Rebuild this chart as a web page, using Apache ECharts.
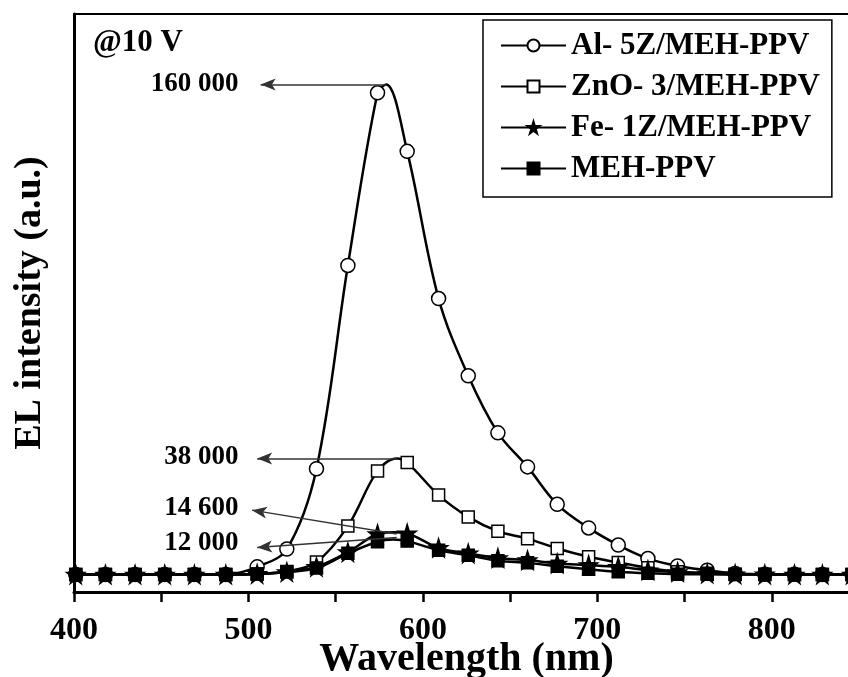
<!DOCTYPE html>
<html>
<head>
<meta charset="utf-8">
<script src="https://cdn.jsdelivr.net/npm/echarts@6/dist/echarts.min.js"></script>
<style>
  html, body { margin: 0; padding: 0; background: #fff; }
  #chart { width: 848px; height: 677px; }
</style>
</head>
<body>
<div id="chart"></div>
<script>
// wavelength (nm) of the plotted markers
const wavelength = [401, 418, 435, 452, 469, 487, 505, 522, 539, 557, 574, 591, 609, 626, 643, 660, 677, 695, 712, 729, 746, 763, 779, 796, 813, 829, 846]

// EL intensity (a.u.) at the markers
const al5z = [200, 200, 200, 200, 200, 200, 2700, 8500, 34700, 101000, 157300, 138200, 90200, 65000, 46400, 35300, 23100, 15400, 9800, 5400, 3000, 1600, 500, 300, 250, 200, 200]
const zno3 = [200, 200, 200, 200, 200, 200, 400, 1200, 4300, 16000, 34000, 36700, 26100, 19000, 14300, 11900, 8700, 6000, 4100, 2400, 1100, 650, 300, 250, 200, 200, 200]
const fe1z = [200, 200, 200, 200, 200, 200, 400, 1000, 2700, 7500, 13400, 13600, 8900, 7100, 5600, 4900, 3800, 3300, 2700, 1600, 1000, 500, 300, 250, 200, 200, 200]
const mehppv = [200, 200, 200, 200, 200, 200, 400, 1000, 2300, 7100, 10900, 11100, 8100, 6500, 4700, 4000, 2900, 1900, 1100, 600, 300, 250, 200, 200, 200, 200, 200]

// curve maxima (between markers, no symbol)
const peakX = [579, 585, 583, 583]
const peakY = [160000, 38000, 14000, 11600]

const seriesNames = ['Al- 5Z/MEH-PPV', 'ZnO- 3/MEH-PPV', 'Fe- 1Z/MEH-PPV', 'MEH-PPV']

// peak annotations
const noteText = ['160 000', '38 000', '14 600', '12 000']
const noteX = [497.5, 497.5, 497.5, 497.5]
const noteY = [160000, 38500, 21800, 10400]
const arrowFrom = [[579, 160000], [585, 38000], [585, 13400], [585, 12300]]
const arrowTo = [[507, 160000], [505, 38000], [502, 21200], [505, 9000]]

const font = "'Liberation Serif', 'Times New Roman', serif"
const star = 'path://M50,0 L61,35 L98,35 L68,57 L79,91 L50,70 L21,91 L32,57 L2,35 L39,35 Z'

const buildData = (values, i) => {
  const pts = wavelength.map((x, j) => [x, values[j]])
  pts.push({ value: [peakX[i], peakY[i]], symbol: 'none' })
  return pts.sort((a, b) => (a.value || a)[0] - (b.value || b)[0])
}

const markers = [
  { symbol: 'circle', size: 14, fill: '#fff' },
  { symbol: 'rect', size: 12, fill: '#fff' },
  { symbol: star, size: 18, fill: '#000' },
  { symbol: 'rect', size: 12, fill: '#000' }
]

const lineSeries = [al5z, zno3, fe1z, mehppv].map((values, i) => ({
  name: seriesNames[i],
  type: 'line',
  smooth: 0.35,
  data: buildData(values, i),
  symbol: markers[i].symbol,
  symbolSize: markers[i].size,
  lineStyle: { color: '#000', width: 2.5 },
  itemStyle: { color: markers[i].fill, borderColor: '#000', borderWidth: 1.5, opacity: 1 }
}))

const notesSeries = {
  name: 'notes',
  type: 'line',
  data: [],
  silent: true,
  markLine: {
    silent: true,
    symbol: ['none', 'arrow'],
    lineStyle: { color: '#333', width: 1.5, type: 'solid' },
    label: { show: false },
    data: arrowFrom.map((p, i) => [
      { coord: p, symbol: 'none' },
      { coord: arrowTo[i], symbol: 'arrow', symbolSize: [9, 15] }
    ])
  },
  markPoint: {
    silent: true,
    symbol: 'circle',
    symbolSize: 1,
    itemStyle: { color: 'rgba(0,0,0,0)' },
    label: {
      show: true,
      position: 'left',
      distance: 5,
      color: '#000',
      fontFamily: font,
      fontWeight: 'bold',
      fontSize: 27
    },
    data: noteText.map((t, i) => ({ coord: [noteX[i], noteY[i]], value: t, label: { formatter: t } }))
  }
}

const chart = echarts.init(document.getElementById('chart'))
chart.setOption({
  animation: false,
  backgroundColor: '#fff',
  title: {
    text: '@10 V',
    left: 93,
    top: 27,
    padding: 0,
    textStyle: { fontFamily: font, fontWeight: 'bold', fontSize: 31, color: '#000' }
  },
  legend: {
    data: seriesNames,
    orient: 'vertical',
    left: 483,
    top: 20,
    padding: [10, 12, 13, 17],
    itemGap: 10,
    itemWidth: 65,
    itemHeight: 15,
    backgroundColor: '#fff',
    borderColor: '#000',
    borderWidth: 1.5,
    borderRadius: 0,
    textStyle: { fontFamily: font, fontWeight: 'bold', fontSize: 31, color: '#000' }
  },
  grid: { left: 74, right: -11, top: 14, bottom: 85, containLabel: false, outerBoundsMode: 'none' },
  xAxis: [{
    type: 'value',
    min: 400,
    max: 850,
    interval: 50,
    name: 'Wavelength (nm)',
    nameLocation: 'middle',
    nameGap: 48,
    nameMoveOverlap: false,
    nameTextStyle: { fontFamily: font, fontWeight: 'bold', fontSize: 40, color: '#000' },
    axisLine: { onZero: false, lineStyle: { color: '#000', width: 3 } },
    axisTick: { length: 10, lineStyle: { color: '#000', width: 2.5 } },
    axisLabel: {
      margin: 23,
      formatter: v => (v % 100 === 0 ? String(v) : ''),
      fontFamily: font,
      fontWeight: 'bold',
      fontSize: 32,
      color: '#000'
    },
    splitLine: { show: false }
  }, {
    type: 'value',
    position: 'top',
    min: 400,
    max: 850,
    axisLine: { onZero: false, lineStyle: { color: '#000', width: 2 } },
    axisTick: { show: false },
    axisLabel: { show: false },
    splitLine: { show: false }
  }],
  yAxis: {
    type: 'value',
    min: -5500,
    max: 183000,
    name: 'EL intensity (a.u.)',
    nameLocation: 'middle',
    nameGap: 25,
    nameMoveOverlap: false,
    nameTextStyle: { fontFamily: font, fontWeight: 'bold', fontSize: 38, color: '#000' },
    axisLine: { show: true, onZero: false, lineStyle: { color: '#000', width: 3 } },
    axisTick: { show: false },
    axisLabel: { show: false },
    splitLine: { show: false }
  },
  series: [...lineSeries, notesSeries]
})
</script>
</body>
</html>
